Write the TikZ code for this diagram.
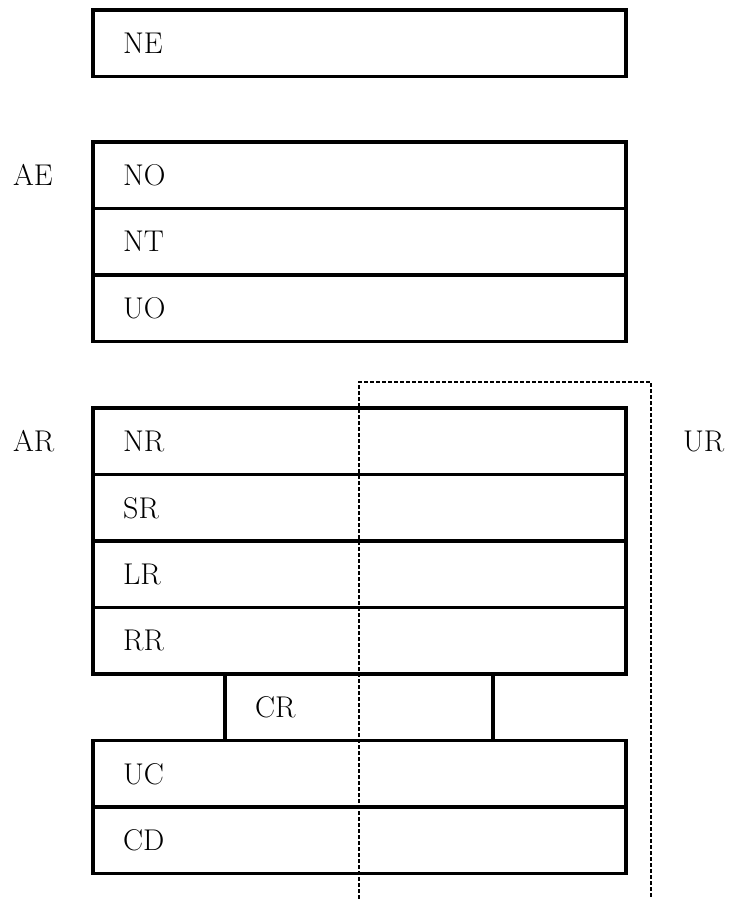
\documentclass[tikz,border=0pt]{standalone}
\begin{document}
\begin{tikzpicture}[x=1pt,y=-1pt,
  box/.style={draw, line width=3.3pt, minimum width=533pt, minimum height=66.5pt, inner sep=0pt, outer sep=0pt},
  crbox/.style={box, minimum width=268pt},
  lab/.style={inner sep=0pt, anchor=west, font=\fontsize{30}{36}\selectfont},
  side/.style={inner sep=0pt, font=\fontsize{30}{36}\selectfont},
  dots/.style={line width=2.2pt, dash pattern=on 4pt off 2pt}]
\useasboundingbox (0,0) rectangle (728,899);
% boxes
\node[box] (ne) at (359.5,43.25) {};
\node[box] (no) at (359.5,175.25) {};
\node[box] (nt) at (359.5,241.75) {};
\node[box] (uo) at (359.5,308.25) {};
\node[box] (nr) at (359.5,441.25) {};
\node[box] (sr) at (359.5,507.75) {};
\node[box] (lr) at (359.5,574.25) {};
\node[box] (rr) at (359.5,640.75) {};
\node[crbox] (cr) at (359,707.25) {};
\node[box] (uc) at (359.5,773.75) {};
\node[box] (cd) at (359.5,840.25) {};
% labels inside
\foreach \n/\t in {ne/NE,no/NO,nt/NT,uo/UO,nr/NR,sr/SR,lr/LR,rr/RR,uc/UC,cd/CD}
  \node[lab] (\n-t) at ([xshift=30pt]\n.west) {\t};
\node[lab] (cr-t) at ([xshift=30pt]cr.west) {CR};
% side labels
\node[side, anchor=west] (ae) at (13,175.25) {AE};
\node[side, anchor=west] (ar) at (13,441.25) {AR};
\node[side, anchor=west] (ur) at (683,441.25) {UR};
% dotted outline
\coordinate (d1) at (359,899);
\coordinate (d2) at (359,382);
\coordinate (d3) at (651,382);
\coordinate (d4) at (651,899);
\draw[dots] (d1) -- (d2) -- (d3) -- (d4);
\end{tikzpicture}
\end{document}
